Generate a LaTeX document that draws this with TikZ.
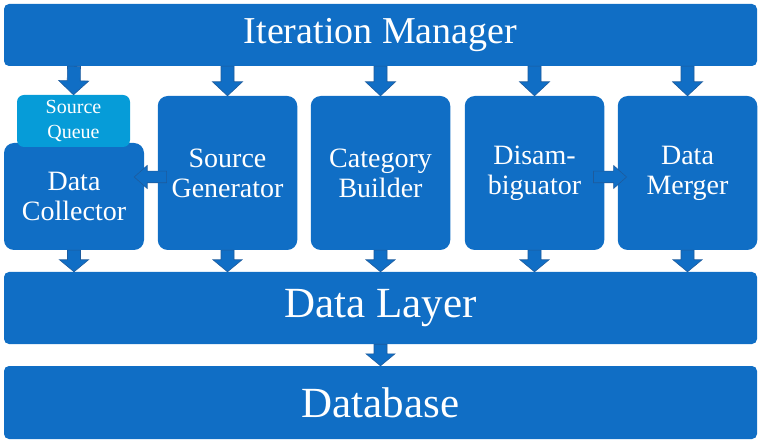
\documentclass[tikz,border=0pt]{standalone}
\usepackage{fontspec}
\setmainfont{Liberation Serif}
\usetikzlibrary{calc}
\definecolor{boxblue}{HTML}{106EC5}
\definecolor{queueblue}{HTML}{069CD8}
\definecolor{arrowline}{HTML}{1D5B9D}

\begin{document}
\begin{tikzpicture}[x=1pt, y=-1pt,
    layer/.style={fill=boxblue, text=white, rounded corners=5pt, inner sep=0pt,
      minimum width=753pt},
    worker/.style={fill=boxblue, text=white, rounded corners=10pt, inner sep=0pt,
      align=center, minimum width=139.5pt, minimum height=154pt,
      font=\fontsize{28}{30}\selectfont},
    queue/.style={fill=queueblue, text=white, rounded corners=7pt, inner sep=0pt,
      align=center, minimum width=113pt, minimum height=52pt,
      font=\fontsize{20}{25}\selectfont},
    barrow/.style n args={3}{draw=arrowline, fill=boxblue, line width=0.6pt,
      to path={let \p1=(\tikztostart), \p2=(\tikztotarget),
        \n1={veclen(\x2-\x1,\y2-\y1)}, \n2={(\x2-\x1)/\n1}, \n3={(\y2-\y1)/\n1},
        \n4={\n1-#3} in
        ({\x1-#1*\n3},{\y1+#1*\n2})
        -- ({\x1-#1*\n3+\n4*\n2},{\y1+#1*\n2+\n4*\n3})
        -- ({\x1-#2*\n3+\n4*\n2},{\y1+#2*\n2+\n4*\n3})
        -- (\p2)
        -- ({\x1+#2*\n3+\n4*\n2},{\y1-#2*\n2+\n4*\n3})
        -- ({\x1+#1*\n3+\n4*\n2},{\y1-#1*\n2+\n4*\n3})
        -- ({\x1+#1*\n3},{\y1-#1*\n2}) -- cycle}}]
  \useasboundingbox (0,0) rectangle (762,443);

  % layers
  \node[layer, minimum height=62pt, font=\fontsize{38}{40}\selectfont] (im) at (380.5,35) {Iteration Manager};
  \node[layer, minimum height=72pt, font=\fontsize{43}{45}\selectfont] (dl) at (380.5,308) {Data Layer};
  \node[layer, minimum height=73pt, font=\fontsize{43}{45}\selectfont] (db) at (380.5,402.5) {Database};

  % components
  \node[worker, minimum width=140pt, minimum height=107pt] (dc) at (74,196.5) {Data\\Collector};
  \node[queue] (sq) at (73.5,121) {Source\\Queue};
  \node[worker] (sg) at (227.5,173) {Source\\Generator};
  \node[worker] (cb) at (380.5,173) {Category\\Builder};
  \node[worker] (dis) at (534.5,173) {Disam-\\biguator};
  \node[worker] (dm) at (687.5,173) {Data\\Merger};

  % arrows
  \draw[barrow={6.5}{15}{14}] (im.south -| dc) to (sq.north);
  \foreach \w in {sg,cb,dis,dm}
    \draw[barrow={6.5}{15}{14}] (im.south -| \w) to (\w.north);
  \foreach \w in {dc,sg,cb,dis,dm}
    \draw[barrow={6.5}{14.5}{12}] (\w.south) to (dl.north -| \w);
  \draw[barrow={6.5}{14.5}{12}] (dl.south) to (db.north);
  \draw[barrow={5.8}{11.5}{13}] ($(sg.west)+(9,4)$) to ($(sg.west -| dc.east)+(-10,4)$);
  \draw[barrow={5.8}{11.5}{13}] ($(dis.east)+(-11,4)$) to ($(dm.west)+(9,4)$);
\end{tikzpicture}
\end{document}
